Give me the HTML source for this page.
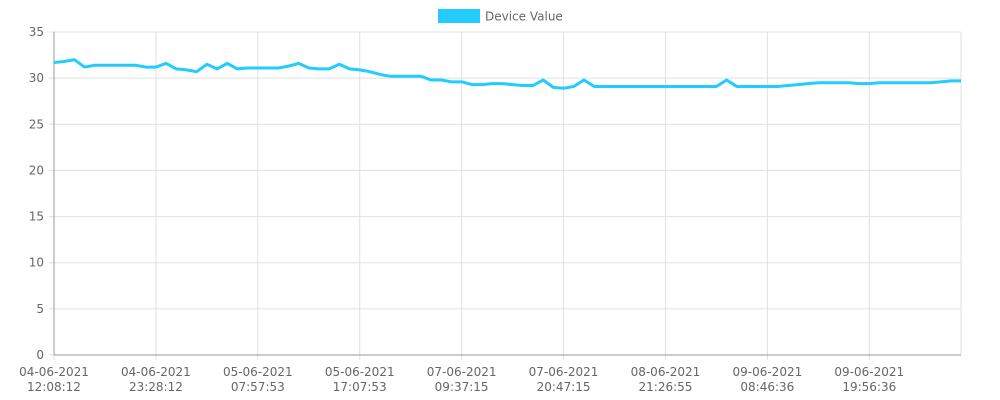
<!DOCTYPE html>
<html><head><meta charset="utf-8"><style>
html,body{margin:0;padding:0;background:#fff;}
svg{display:block;font-family:"DejaVu Sans","Liberation Sans",sans-serif;}
</style></head><body>
<svg id="chart" width="1000" height="400">
<g id="grid"></g>
<g id="axes"></g>
<g id="series"></g>
<g>
<rect x="438" y="9" width="42" height="14" fill="#22ccff"/>
<text x="485" y="20.5" font-size="12" fill="#666">Device Value</text>
</g>
</svg>
<script>
const values = [31.7,31.8,32.0,31.2,31.4,31.4,31.4,31.4,31.4,31.2,
31.2,31.6,31.0,30.9,30.7,31.5,31.0,31.6,31.0,31.1,
31.1,31.1,31.1,31.3,31.6,31.1,31.0,31.0,31.5,31.0,
30.9,30.7,30.4,30.2,30.2,30.2,30.2,29.8,29.8,29.6,
29.6,29.3,29.3,29.4,29.4,29.3,29.2,29.2,29.8,29.0,
28.9,29.1,29.8,29.1,29.1,29.1,29.1,29.1,29.1,29.1,
29.1,29.1,29.1,29.1,29.1,29.1,29.8,29.1,29.1,29.1,
29.1,29.1,29.2,29.3,29.4,29.5,29.5,29.5,29.5,29.4,
29.4,29.5,29.5,29.5,29.5,29.5,29.5,29.6,29.7,29.7];
const xTickDates = ["04-06-2021","04-06-2021","05-06-2021","05-06-2021","07-06-2021","07-06-2021","08-06-2021","09-06-2021","09-06-2021"];
const xTickTimes = ["12:08:12","23:28:12","07:57:53","17:07:53","09:37:15","20:47:15","21:26:55","08:46:36","19:56:36"];
const yTicks = [0,5,10,15,20,25,30,35];
const tickEvery = 10;

const NS="http://www.w3.org/2000/svg";
const L=54,R=961,T=32,B=355,yMax=35;
const xs=i=>L+i*(R-L)/(values.length-1);
const ys=v=>B-v*(B-T)/yMax;
function mk(tag,attrs,parent){const e=document.createElementNS(NS,tag);for(const k in attrs)e.setAttribute(k,attrs[k]);parent.appendChild(e);return e;}
const grid=document.getElementById('grid'),axes=document.getElementById('axes'),series=document.getElementById('series');
yTicks.forEach(t=>{
  const y=ys(t);
  const g=mk('line',{x1:L-5,x2:R,y1:y,y2:y,stroke:'#e0e0e0','stroke-width':1},grid);
  
  
  const tx=mk('text',{x:L-10,y:y+4,'font-size':12,fill:'#666','text-anchor':'end'},axes);
  tx.textContent=t;
  
  
});
xTickDates.forEach((d,k)=>{
  const x=xs(k*tickEvery);
  const g=mk('line',{x1:x,x2:x,y1:T,y2:B+5,stroke:'#e0e0e0','stroke-width':1},grid);
  
  
  const tx=mk('text',{x:x,y:376,'font-size':12,fill:'#666','text-anchor':'middle'},axes);
  tx.textContent=d;
  
  
  const tt=mk('text',{x:x,y:391,'font-size':12,fill:'#666','text-anchor':'middle'},axes);
  tt.textContent=xTickTimes[k];
  
  
});
const gr=mk('line',{x1:R,x2:R,y1:T,y2:B,stroke:'#e0e0e0'},grid);


const ya=mk('line',{x1:L,x2:L,y1:T,y2:B,stroke:'#999'},axes);


const xa=mk('line',{x1:L,x2:R,y1:B,y2:B,stroke:'#999'},axes);


const p=mk('polyline',{points:values.map((v,i)=>xs(i)+','+ys(v)).join(' '),fill:'none',stroke:'#22ccff','stroke-width':3,'stroke-linejoin':'round'},series);


</script>
</body></html>
